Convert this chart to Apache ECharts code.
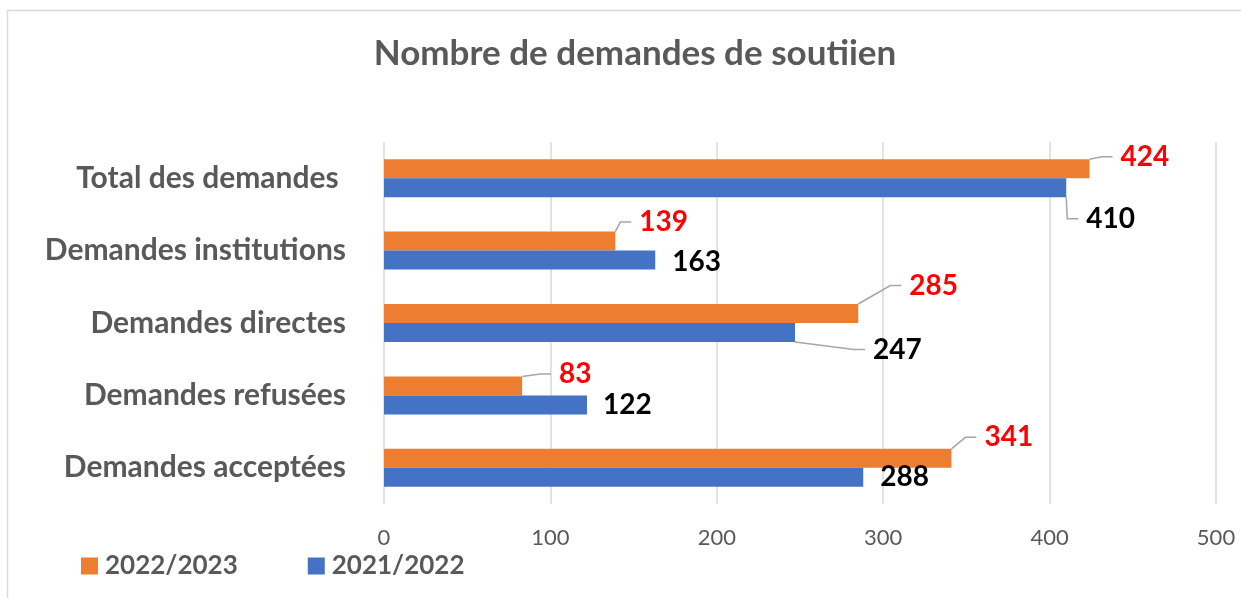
<!DOCTYPE html>
<html>
<head>
<meta charset="utf-8">
<script src="https://cdn.jsdelivr.net/npm/echarts@6/dist/echarts.min.js"></script>
<style>html,body{margin:0;padding:0;background:#fff}#c{width:1241px;height:598px}</style>
</head>
<body>
<div id="c"></div>
<script>
const titleText = 'Nombre de demandes de soutiien';
const categories = ['Total des demandes ', 'Demandes institutions', 'Demandes directes', 'Demandes refusées', 'Demandes acceptées'];
const seriesNames = ['2022/2023', '2021/2022'];
const values2022_2023 = [424, 139, 285, 83, 341];
const values2021_2022 = [410, 163, 247, 122, 288];
const xTicks = [0, 100, 200, 300, 400, 500];

// label placement (layout only): shift from default 'right' position
const offsetsOrange = [[26, -12], [19, -19], [46, -28], [32, -12], [28, -21]];
const offsetsBlue = [[15, 31], [12, 2], [73, 17], [11, 0], [12, 0]];
const lineOrange = [true, true, true, true, true];
const lineBlue = [true, false, true, false, false];
const LABEL_PAD = 8;

const FONT = 'Lato';
const GRAY = '#595959';

function buildData(vals, lines) {
  return vals.map((v, i) => ({ value: v, labelLine: { show: lines[i] } }));
}

function labelCfg(color) {
  return {
    show: true, position: 'right', distance: 5,
    formatter: '{g|}{c}',
    rich: { g: { width: LABEL_PAD, fontSize: 28 } },
    fontFamily: FONT, fontSize: 28, fontWeight: 'bold', color: color
  };
}

const chart = echarts.init(document.getElementById('c'), null, { renderer: 'canvas' });
chart.setOption({
  animation: false,
  backgroundColor: '#fff',
  graphic: [{
    type: 'rect', shape: { x: 7.5, y: 10.5, width: 1400, height: 800 },
    style: { fill: 'none', stroke: '#D9D9D9', lineWidth: 1.5 }, silent: true, z: -1
  }],
  title: {
    text: titleText, left: 630, top: 31, textAlign: 'center',
    textStyle: { fontFamily: FONT, fontSize: 35, fontWeight: 'bold', color: GRAY }
  },
  legend: {
    data: seriesNames, left: 81, top: 553, itemWidth: 17, itemHeight: 17, itemGap: 70,
    icon: 'rect', padding: 0,
    textStyle: { fontFamily: FONT, fontSize: 26, fontWeight: 'bold', color: GRAY, padding: [0, 0, 0, 2] }
  },
  grid: { left: 384, right: 25, top: 142, bottom: 94, containLabel: false },
  xAxis: {
    type: 'value', min: xTicks[0], max: xTicks[xTicks.length - 1], interval: xTicks[1] - xTicks[0],
    axisLine: { show: false }, axisTick: { show: false },
    splitLine: { lineStyle: { color: '#D9D9D9', width: 1.5 } },
    axisLabel: { fontFamily: FONT, fontSize: 22, color: GRAY, margin: 23 }
  },
  yAxis: {
    type: 'category', data: categories, inverse: true,
    axisLine: { show: false }, axisTick: { show: false },
    axisLabel: { fontFamily: FONT, fontSize: 30, fontWeight: 'bold', color: GRAY, margin: 38 }
  },
  series: [
    {
      name: seriesNames[0], type: 'bar', barWidth: 19, barGap: '0%',
      itemStyle: { color: '#ED7D31' },
      label: labelCfg('#FF0000'),
      labelLine: { show: true, length2: 11, lineStyle: { color: '#A6A6A6', width: 1.5 } },
      labelLayout: (p) => ({ dx: offsetsOrange[p.dataIndex][0] - LABEL_PAD, dy: offsetsOrange[p.dataIndex][1] }),
      data: buildData(values2022_2023, lineOrange)
    },
    {
      name: seriesNames[1], type: 'bar', barWidth: 19, barGap: '0%',
      itemStyle: { color: '#4472C4' },
      label: labelCfg('#000000'),
      labelLine: { show: true, length2: 11, lineStyle: { color: '#A6A6A6', width: 1.5 } },
      labelLayout: (p) => ({ dx: offsetsBlue[p.dataIndex][0] - LABEL_PAD, dy: offsetsBlue[p.dataIndex][1] }),
      data: buildData(values2021_2022, lineBlue)
    }
  ]
});
</script>
</body>
</html>
